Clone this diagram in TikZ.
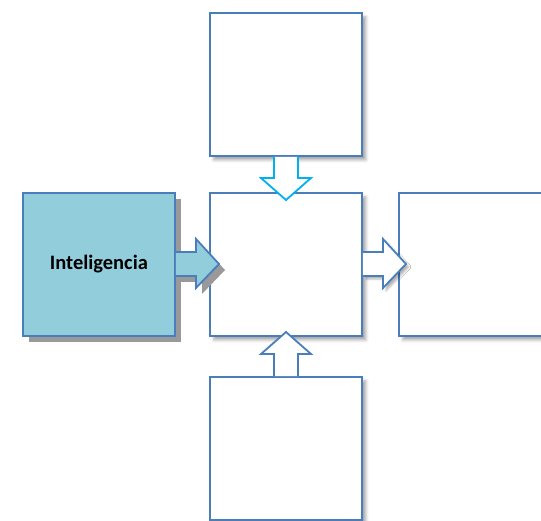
\documentclass[tikz,border=0pt]{standalone}
\usepackage{fontspec}
\setmainfont{Carlito}
\usetikzlibrary{shadows.blur}
\definecolor{edge}{HTML}{4A7EBB}
\definecolor{cyanedge}{HTML}{00B0F0}
\definecolor{lblue}{HTML}{92CDDC}
\tikzset{
  box/.style={draw=edge, line width=1.8pt, fill=white, minimum width=152pt, minimum height=143pt, inner sep=0pt, anchor=north west,
    blur shadow={shadow xshift=4pt, shadow yshift=-4pt, shadow blur radius=3pt, shadow opacity=35}},
  mainbox/.style={draw=edge, line width=1.8pt, fill=lblue, minimum width=152pt, minimum height=143pt, inner sep=0pt, anchor=north west,
    drop shadow={shadow xshift=6pt, shadow yshift=-6pt, fill=black!40, opacity=1}},
  arr/.style={draw=edge, line width=1.8pt, fill=white, line join=miter},
}
\begin{document}
\begin{tikzpicture}[x=1pt,y=-1pt]
\useasboundingbox (0,0) rectangle (541,521);
% boxes
\node[box] (top) at (209,12) {};
\node[box] (center) at (209,192) {};
\node[box] (bottom) at (209,376) {};
\node[box] (right) at (398,192) {};
\node[mainbox] (intel) at (22,192) {\bfseries\fontsize{20.5}{24}\selectfont Inteligencia};
% arrows
% left arrow shadow
\fill[black!40] (181,258) -- (202,258) -- (202,245) -- (225,270) -- (202,294) -- (202,282) -- (181,282) -- cycle;
\draw[arr, fill=lblue] (intel.east |- 0,252) -- (196,252) -- (196,239) -- (219,264) -- (196,288) -- (196,276) -- (intel.east |- 0,276);
\draw[arr, blur shadow={shadow xshift=3pt, shadow yshift=-3pt, shadow blur radius=2pt, shadow opacity=30}] (center.east |- 0,252) -- (383,252) -- (383,239) -- (406,264) -- (383,288) -- (383,276) -- (center.east |- 0,276);
\draw[arr, draw=cyanedge] (274,0 |- top.south) -- (274,178) -- (261,178) -- (286,200) -- (311,178) -- (298,178) -- (298,0 |- top.south);
\draw[arr] (274,0 |- bottom.north) -- (274,354) -- (261,354) -- (286,332) -- (311,354) -- (298,354) -- (298,0 |- bottom.north);
\end{tikzpicture}
\end{document}
